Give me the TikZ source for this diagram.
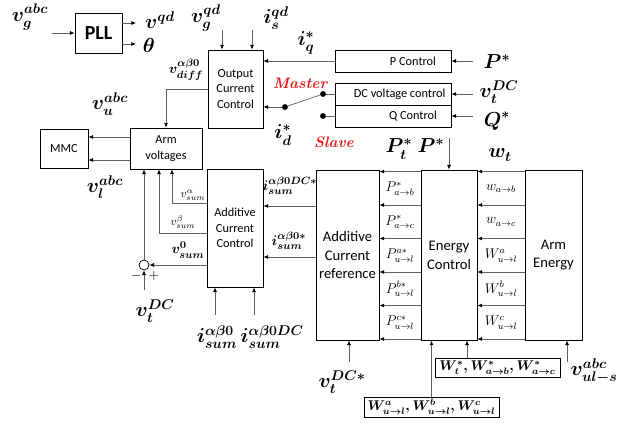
\documentclass[tikz,border=0pt]{standalone}
\usepackage{fontspec}
\usepackage{amsmath,amssymb}
\newfontfamily\blockfont{Carlito}
\usetikzlibrary{arrows.meta, positioning, calc}
\definecolor{mmcred}{RGB}{228, 28, 28}
\definecolor{mmcline}{RGB}{95, 95, 95}

\tikzset{
  blk/.style={draw, line width=0.8pt, align=center, inner sep=1pt,
    font=\blockfont\fontsize{10.5}{13}\selectfont},
  conn/.style={draw=mmcline, line width=0.6pt, -{Latex[length=4pt,width=3.5pt,color=black]}},
  wire/.style={draw=mmcline, line width=0.6pt},
  dot/.style={circle, fill=black, inner sep=0pt, minimum size=5pt},
  bigl/.style={font=\boldmath\fontsize{16.5}{20}\selectfont, inner sep=0pt},
  midl/.style={font=\boldmath\fontsize{13}{15}\selectfont, inner sep=0pt},
  rowl/.style={font=\fontsize{11.5}{13}\selectfont, inner sep=0pt},
  smll/.style={font=\fontsize{10}{12}\selectfont, inner sep=0pt},
}

\begin{document}
\begin{tikzpicture}[x=0.03cm, y=-0.03cm]
\useasboundingbox (0,0) rectangle (617,427);

% --- Bloques ---
\node[blk, minimum width=1.41cm, minimum height=1.2cm, font=\blockfont\bfseries\fontsize{17}{20}\selectfont] (pll) at (98.5,33) {PLL};
\node[blk, minimum width=1.65cm, minimum height=2.34cm] (occ) at (235.5,89) {Output\\Current\\Control};
\node[blk, minimum width=3.48cm, minimum height=0.66cm] (pc) at (393,61) {\hspace*{1.2cm}P Control};
\node[blk, minimum width=3.48cm, minimum height=0.66cm] (dcv) at (393,94) {\hspace*{0.4cm}DC voltage control};
\node[blk, minimum width=3.48cm, minimum height=0.66cm] (qc) at (393,116) {\hspace*{1.2cm}Q Control};
\node[blk, minimum width=1.44cm, minimum height=1.17cm] (mmc) at (64,148.5) {MMC};
\node[blk, minimum width=2.16cm, minimum height=1.23cm] (arm) at (166,148.5) {Arm\\voltages};
\node[blk, minimum width=1.68cm, minimum height=3.54cm] (acc) at (235,228) {Additive\\Current\\Control};
\node[blk, minimum width=1.89cm, minimum height=5.1cm, font=\blockfont\fontsize{12.5}{16}\selectfont] (acr) at (347.5,255) {Additive\\Current\\reference};
\node[blk, minimum width=1.68cm, minimum height=5.1cm, font=\blockfont\fontsize{12.5}{16}\selectfont] (ec) at (449,255) {Energy\\Control};
\node[blk, minimum width=1.71cm, minimum height=5.1cm, font=\blockfont\fontsize{12.5}{16}\selectfont] (ae) at (553.5,255) {Arm\\Energy};
\node[blk, minimum width=3.75cm, minimum height=0.57cm, font=\boldmath\fontsize{12}{14}\selectfont] (wref) at (497.5,367.5) {$W_t^*, W_{a\to b}^*, W_{a\to c}^*$};
\node[blk, minimum width=4.05cm, minimum height=0.6cm, font=\boldmath\fontsize{12}{14}\selectfont] (wmeas) at (431.5,407) {$W_{u\to l}^a, W_{u\to l}^b, W_{u\to l}^c$};

% --- PLL ---
\coordinate (vgin) at (52,33);
\draw[conn] (vgin) -- (pll.west);
\coordinate (pllq) at (136,23);
\coordinate (pllt) at (136,44);
\draw[conn] (pllq -| pll.east) -- (pllq);
\draw[conn] (pllt -| pll.east) -- (pllt);
\node[bigl] (lvgabc) at (30,17) {$v_g^{abc}$};
\node[bigl] (lvqd) at (160,20) {$v^{qd}$};
\node[bigl] (ltheta) at (149,45) {$\theta$};

% --- Output Current Control ---
\coordinate (vgqd) at (222,30);
\coordinate (isqd) at (252,30);
\draw[conn] (vgqd) -- (vgqd |- occ.north);
\draw[conn] (isqd) -- (isqd |- occ.north);
\node[bigl] (lvgqd) at (206,18) {$v_g^{qd}$};
\node[bigl] (lisqd) at (276,18) {$i_s^{qd}$};
\draw[conn] (pc.west) -- (pc.west -| occ.east);
\node[bigl] (liq) at (306,43) {$i_q^*$};

% entradas de referencia
\foreach \b/\yy in {pc/61, dcv/94, qc/116} {
  \coordinate (in\b) at (473,\yy);
  \draw[conn] (in\b) -- (\b.east);
}
\node[bigl] (lpref) at (497,62) {$P^*$};
\node[bigl] (lvdc) at (499,92) {$v_t^{DC}$};
\node[bigl] (lqref) at (497,121) {$Q^*$};

% conmutador Master / Slave
\node[dot] (sm) at (323,94) {};
\node[dot] (ss) at (323,116) {};
\node[dot] (sp) at (285,107) {};
\draw[wire] (sm) -- (sm -| dcv.west);
\draw[wire] (ss) -- (ss -| qc.west);
\draw[wire] (sp) -- (sm);
\draw[conn] (sp) -- (sp -| occ.east);
\node[font=\bfseries\itshape\fontsize{13}{15}\selectfont, text=mmcred] (lmaster) at (300,83) {Master};
\node[font=\bfseries\itshape\fontsize{13}{15}\selectfont, text=mmcred] (lslave) at (334,142) {Slave};
\node[bigl] (lid) at (283,135) {$i_d^*$};

% --- Arm voltages / MMC ---
\draw[conn] (occ.west) -| (arm.north);
\node[midl] (lvdiff) at (186,70) {$v_{diff}^{\alpha\beta0}$};
\draw[conn] (arm.west |- 0,137) -- (mmc.east |- 0,137);
\draw[conn] (arm.west |- 0,160) -- (mmc.east |- 0,160);
\node[bigl] (lvu) at (110,104) {$v_u^{abc}$};
\node[bigl] (lvl) at (105,187) {$v_l^{abc}$};

\draw[conn] (acc.west |- 0,203) -| (arm.south -| 172,0);
\draw[conn] (acc.west |- 0,233) -| (arm.south -| 159,0);
\node[smll] (lvsa) at (193,195) {$v_{sum}^{\alpha}$};
\node[smll] (lvsb) at (183,222) {$v_{sum}^{\beta}$};
\node[midl] (lvs0) at (188,250) {$v_{sum}^{0}$};

% sumador
\node[draw, circle, minimum size=0.3cm, inner sep=0pt, line width=0.6pt] (sum) at (144,265) {};
\draw[conn] (acc.west |- sum) -- (sum.east);
\draw[conn] (sum.north) -- (sum.north |- arm.south);
\coordinate (vdcin) at (144,290);
\draw[conn] (vdcin) -- (sum.south);
\node[font=\bfseries\fontsize{12}{14}\selectfont] (lminus) at (136,276) {$-$};
\node[font=\bfseries\fontsize{12}{14}\selectfont] (lplus) at (154,276) {$+$};
\node[bigl] (lvdcb) at (155,311) {$v_t^{DC}$};

% --- Additive Current Control ---
\coordinate (isa) at (215,315);
\coordinate (isb) at (254,315);
\draw[conn] (isa) -- (isa |- acc.south);
\draw[conn] (isb) -- (isb |- acc.south);
\node[bigl] (lisa) at (217,337) {$i_{sum}^{\alpha\beta0}$};
\node[bigl] (lisb) at (272,337) {$i_{sum}^{\alpha\beta0DC}$};
\draw[conn] (acr.west |- 0,206) -- (acc.east |- 0,206);
\draw[conn] (acr.west |- 0,257) -- (acc.east |- 0,257);
\node[midl] (lisdc) at (290,186) {$i_{sum}^{\alpha\beta0DC*}$};
\node[midl] (lis0) at (289,241) {$i_{sum}^{\alpha\beta0*}$};

% --- Additive Current reference ---
\coordinate (vdcref) at (349,362);
\draw[conn] (vdcref) -- (vdcref |- acr.south);
\node[bigl] (lvdcref) at (342,382) {$v_t^{DC*}$};

% --- Energy Control / Arm Energy ---
\foreach \k in {0,...,5} {
  \pgfmathsetmacro{\yy}{171.5+33.5*\k}
  \draw[conn] (ec.west |- 0,\yy) -- (acr.east |- 0,\yy);
  \draw[conn] (ae.west |- 0,\yy) -- (ec.east |- 0,\yy);
}
\foreach \k/\pl/\wl in {0/{P_{a\to b}^*}/{w_{a\to b}}, 1/{P_{a\to c}^*}/{w_{a\to c}},
    2/{P_{u\to l}^{a*}}/{W_{u\to l}^{a}}, 3/{P_{u\to l}^{b*}}/{W_{u\to l}^{b}},
    4/{P_{u\to l}^{c*}}/{W_{u\to l}^{c}}} {
  \pgfmathsetmacro{\yy}{188.5+33.5*\k}
  \node[rowl] (lp\k) at (400,\yy) {$\pl$};
  \node[rowl] (lw\k) at (501,\yy) {$\wl$};
}
\node[bigl] (lpt) at (399,149) {$P_t^*$};
\node[bigl] (lpec) at (431,146) {$P^*$};
\coordinate (pecin) at (449,138);
\draw[conn] (pecin) -- (ec.north);
\node[bigl] (lwt) at (500,155) {$w_t$};

\draw[conn, line width=1.1pt] (wmeas.north) -- (wmeas.north |- ec.south);
\draw[conn] (wref.north -| 467,0) -- (ec.south -| 467,0);
\coordinate (vulin) at (567,362);
\draw[conn] (vulin) -- (vulin |- ae.south);
\node[bigl] (lvul) at (594,371) {$v_{ul-s}^{abc}$};

\end{tikzpicture}
\end{document}
